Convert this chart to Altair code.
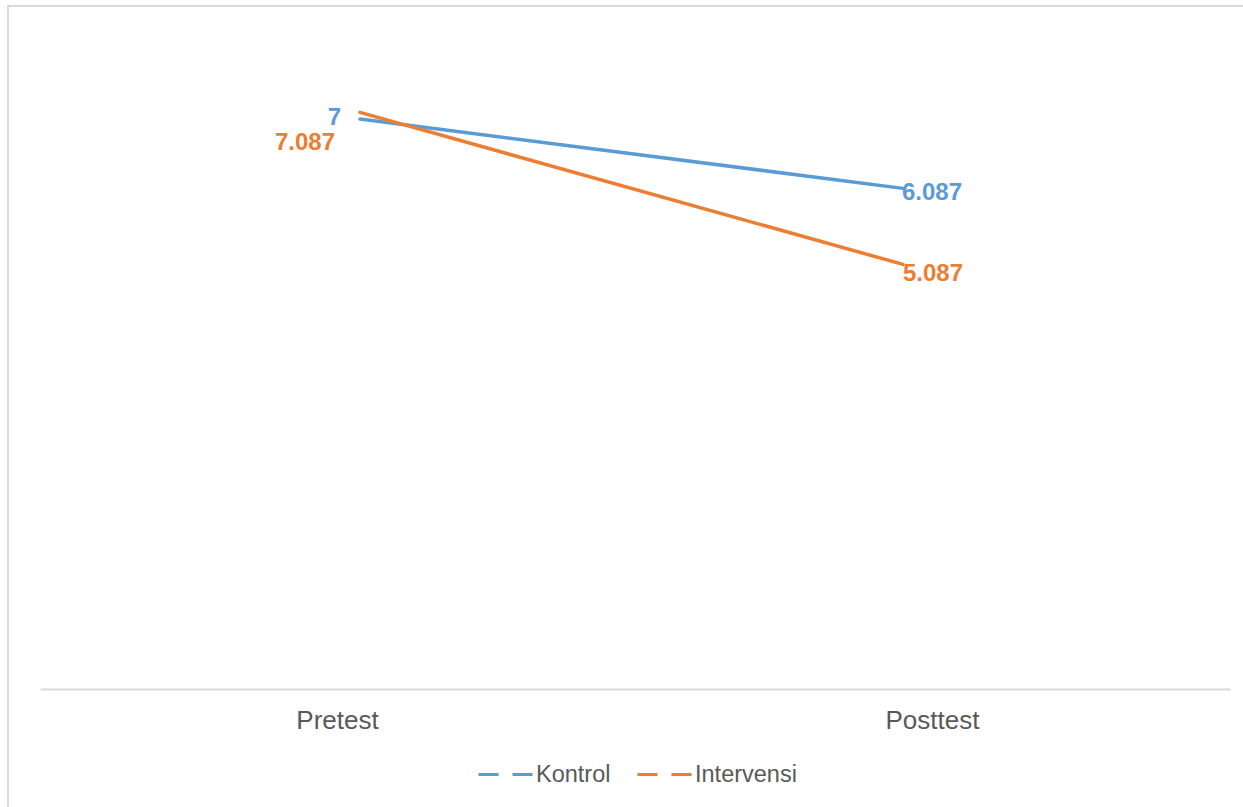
import altair as alt
import pandas as pd

phases = ["Pretest", "Posttest"]
series = ["Kontrol", "Intervensi"]
kontrol = [7, 6.087]
intervensi = [7.087, 5.087]
colors = ["#5B9BD5", "#ED7D31"]

rows = []
for s, vals in zip(series, [kontrol, intervensi]):
    for p, v in zip(phases, vals):
        rows.append({"phase": p, "series": s, "value": v, "label": f"{v:g}"})
df = pd.DataFrame(rows)

FONT = "Liberation Sans"

x_enc = alt.X(
    "phase:N",
    sort=phases,
    scale=alt.Scale(type="point", padding=0.5958, align=0.4946),
    axis=alt.Axis(
        title=None,
        ticks=False,
        grid=False,
        domainColor="#d9d9d9",
        domainWidth=1.8,
        labelFont=FONT,
        labelFontSize=26,
        labelColor="#595959",
        labelPadding=18,
        labelAngle=0,
        labelOffset={"condition": {"test": "datum.value == 'Pretest'", "value": -23}, "value": 29},
    ),
)
y_enc = alt.Y("value:Q", scale=alt.Scale(domain=[-0.5, 8], nice=False, zero=False), axis=None)
color_enc = alt.Color(
    "series:N",
    sort=series,
    scale=alt.Scale(domain=series, range=colors),
    legend=alt.Legend(
        title=None,
        orient="none",
        direction="horizontal",
        legendX=437,
        legendY=703,
        symbolType="stroke",
        symbolSize=2916,
        symbolStrokeWidth=3,
        symbolDash=[20, 14],
        labelFont=FONT,
        labelFontSize=23.5,
        labelColor="#595959",
        labelOffset=2,
        columnPadding=20,
        padding=0,
    ),
)

lines = alt.Chart(df).mark_line(strokeWidth=3.5, strokeCap="round").encode(
    x=x_enc, y=y_enc, color=color_enc, order=alt.Order("phase:N")
)

# label styling per (series, phase)
label_style = {
    ("Kontrol", "Pretest"): dict(align="right", dx=-19, dy=-1),
    ("Intervensi", "Pretest"): dict(align="right", dx=-25, dy=31),
    ("Kontrol", "Posttest"): dict(align="left", dx=-1, dy=5),
    ("Intervensi", "Posttest"): dict(align="left", dx=0, dy=10),
}

texts = []
for (s, p), st in label_style.items():
    t = alt.Chart(df).transform_filter(
        f"datum.series == '{s}' && datum.phase == '{p}'"
    ).mark_text(
        font=FONT, fontSize=24, fontWeight="bold", baseline="middle", **st
    ).encode(
        x=alt.X("phase:N", sort=phases, scale=alt.Scale(type="point", padding=0.5958, align=0.4946)),
        y=alt.Y("value:Q", scale=alt.Scale(domain=[-0.5, 8], nice=False, zero=False)),
        text="label:N",
        color=alt.Color("series:N", scale=alt.Scale(domain=series, range=colors), legend=None),
    )
    texts.append(t)

border = alt.Chart(pd.DataFrame({"k": [0]})).mark_rect(
    fillOpacity=0, stroke="#d9d9d9", strokeWidth=2
).encode(
    x=alt.value(-32), x2=alt.value(1250), y=alt.value(-37), y2=alt.value(800)
)

chart = alt.layer(border, lines, *texts).properties(
    width=1190,
    height=646,
    autosize=alt.AutoSizeParams(type="none"),
    padding={"left": 40, "top": 43, "right": 13, "bottom": 118},
    background="white",
).configure_view(stroke=None)

chart.save("out.html", embed_options={"renderer": "svg", "actions": False})
